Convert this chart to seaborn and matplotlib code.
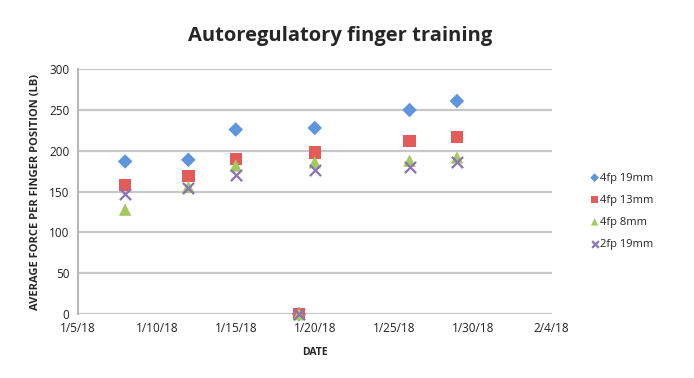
import pandas as pd
import matplotlib.pyplot as plt
import seaborn as sns

# Session dates and average force per finger position (lb)
dates = ["2018-01-08", "2018-01-12", "2018-01-15", "2018-01-19", "2018-01-20", "2018-01-26", "2018-01-29"]
force_4fp_19 = [187, 189, 226, 0, 228, 250, 261]
force_4fp_13 = [158, 169, 190, 0, 198, 212, 217]
force_4fp_8 = [128, 156, 182, 0, 186, 188, 192]
force_2fp_19 = [147, 154, 170, 0, 176, 180, 186]

series_names = ["4fp 19mm", "4fp 13mm", "4fp 8mm", "2fp 19mm"]
tick_dates = ["2018-01-05", "2018-01-10", "2018-01-15", "2018-01-20", "2018-01-25", "2018-01-30", "2018-02-04"]
tick_labels = ["1/5/18", "1/10/18", "1/15/18", "1/20/18", "1/25/18", "1/30/18", "2/4/18"]

frames = []
for name, vals in zip(series_names, [force_4fp_19, force_4fp_13, force_4fp_8, force_2fp_19]):
    frames.append(pd.DataFrame({"date": pd.to_datetime(dates), "force": vals, "series": name}))
df = pd.concat(frames, ignore_index=True)

sns.set_style("white")
plt.rcParams['font.family'] = ['Open Sans', 'DejaVu Sans']

fig = plt.figure(figsize=(6.94, 3.78), dpi=100)
ax = fig.add_axes([0.112, 0.169, 0.683, 0.648])

palette = {"4fp 19mm": "#5f95dc", "4fp 13mm": "#e35c59", "4fp 8mm": "#a4c95e", "2fp 19mm": "#8a72b4"}
markers = {"4fp 19mm": "D", "4fp 13mm": "s", "4fp 8mm": "^", "2fp 19mm": "x"}
sizes_map = {"4fp 19mm": 55, "4fp 13mm": 80, "4fp 8mm": 80, "2fp 19mm": 65}

for name in series_names:
    sub = df[df["series"] == name]
    kw = dict(edgecolor="none") if markers[name] != "x" else dict(linewidth=1.6)
    sns.scatterplot(data=sub, x="date", y="force", color=palette[name], marker=markers[name],
                    s=sizes_map[name], ax=ax, label=name, zorder=3, clip_on=False, **kw)

ax.set_ylim(0, 300)
ax.set_yticks(range(0, 301, 50))
ax.set_xlim(pd.Timestamp(tick_dates[0]), pd.Timestamp(tick_dates[-1]))
ax.set_xticks(pd.to_datetime(tick_dates))
ax.set_xticklabels(tick_labels)
ax.yaxis.grid(True, color="#c8c8c8", linewidth=1.6)
ax.set_axisbelow(True)
for s in ["top", "right", "bottom"]:
    ax.spines[s].set_visible(False)
ax.spines["left"].set_color("#b8b8b8")
ax.spines["left"].set_linewidth(1.5)
ax.tick_params(length=0, labelsize=8.5, colors="#222222", pad=6)

ax.set_xlabel("DATE", fontsize=7.5, fontweight="bold", labelpad=8)
ax.set_ylabel("AVERAGE FORCE PER FINGER POSITION (LB)", fontsize=8, fontweight="bold", labelpad=6)
fig.suptitle("Autoregulatory finger training", x=0.49, y=0.93, fontsize=14.5, fontweight="bold")

leg = ax.legend(loc="center left", bbox_to_anchor=(1.06, 0.42), frameon=False, fontsize=8,
                handletextpad=0.1, labelspacing=1.0, markerscale=0.6, handlelength=0.8)

fig.savefig("out.png", dpi=100)
